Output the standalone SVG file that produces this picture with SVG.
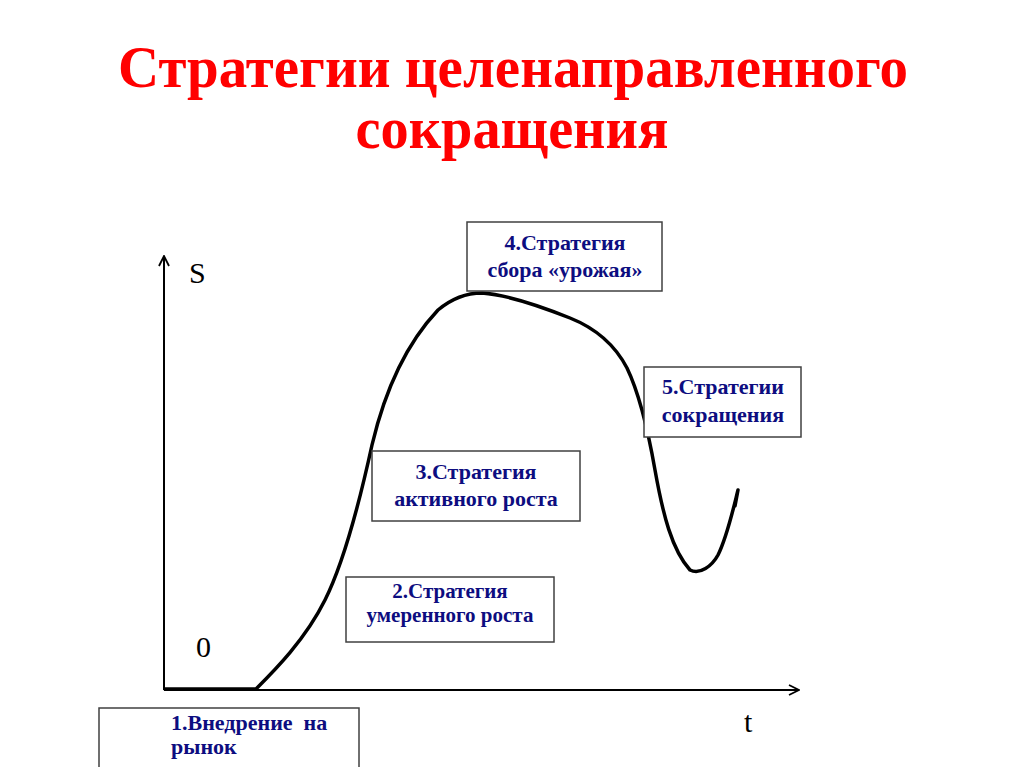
<svg xmlns="http://www.w3.org/2000/svg" width="1024" height="767" viewBox="0 0 1024 767">
<style>
.title{font-family:"Liberation Serif",serif;font-weight:bold;fill:#ff0000;font-size:60px;text-anchor:middle}
.box{fill:#ffffff;stroke:#404040;stroke-width:1.5}
.lbl{font-family:"Liberation Serif",serif;font-weight:bold;fill:#0d0d80;font-size:22px;text-anchor:middle}
.ax{font-family:"Liberation Serif",serif;fill:#000;font-size:30px}
.axis{stroke:#000;stroke-width:2;fill:none}
.curve{stroke:#000;stroke-width:3.5;fill:none;stroke-linecap:round;stroke-linejoin:round}
</style>
<defs>
<marker id="arr" viewBox="0 0 12 12" refX="11" refY="6" markerWidth="12" markerHeight="12" markerUnits="userSpaceOnUse" orient="auto">
<path d="M1,1 L11,6 L1,11" fill="none" stroke="#000" stroke-width="1.8"/>
</marker>
</defs>
<rect width="1024" height="767" fill="#fff"/>
<g id="title">
<text class="title" x="513" y="87" textLength="790" lengthAdjust="spacingAndGlyphs">Стратегии целенаправленного</text>
<text class="title" x="512" y="148" textLength="313" lengthAdjust="spacingAndGlyphs">сокращения</text>
</g>
<g id="connectors">
<line class="axis" x1="164" y1="690" x2="164" y2="256" marker-end="url(#arr)"/>
<line class="axis" x1="164" y1="690" x2="799" y2="690" marker-end="url(#arr)"/>
<path class="curve" d="M165,689 L256,689 C275,670 305,640 325,600 C345,560 360,500 372,445 C385,390 405,345 438,310 C450,300 465,293 482,293 C510,295 545,308 570,318 C595,328 615,345 627,368 C640,395 648,430 655,470 C663,515 672,550 690,570 C700,575 712,566 718,555 C727,537 733,510 738,490 L735,506"/>
</g>
<g id="axis-labels">
<text class="ax" x="189" y="283">S</text>
<text class="ax" x="196" y="657">0</text>
<text class="ax" x="744" y="732">t</text>
</g>
<g id="node1">
<rect class="box" x="99" y="708" width="260" height="70"/>
<text class="lbl" x="171" y="730" style="text-anchor:start;white-space:pre" xml:space="preserve">1.Внедрение  на</text>
<text class="lbl" x="171" y="754" style="text-anchor:start">рынок</text>
</g>
<g id="node2">
<rect class="box" x="346" y="577" width="208" height="65"/>
<text class="lbl" x="450" y="598" style="font-size:21px">2.Стратегия</text>
<text class="lbl" x="450" y="622" style="font-size:21px">умеренного роста</text>
</g>
<g id="node3">
<rect class="box" x="372" y="451" width="208" height="70"/>
<text class="lbl" x="476" y="479">3.Стратегия</text>
<text class="lbl" x="476" y="506">активного роста</text>
</g>
<g id="node4">
<rect class="box" x="467" y="222" width="195" height="69"/>
<text class="lbl" x="565" y="250">4.Стратегия</text>
<text class="lbl" x="565" y="277">сбора «урожая»</text>
</g>
<g id="node5">
<rect class="box" x="644" y="367" width="157" height="70"/>
<text class="lbl" x="723" y="394">5.Стратегии</text>
<text class="lbl" x="723" y="422">сокращения</text>
</g>
</svg>
